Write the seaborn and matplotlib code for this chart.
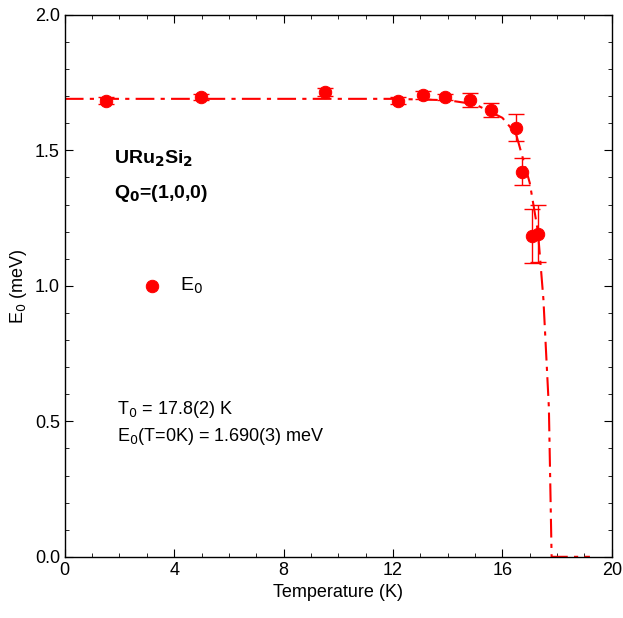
import numpy as np
import seaborn as sns
import matplotlib.pyplot as plt
from matplotlib.ticker import MultipleLocator

sns.set_style("ticks")
plt.rcParams['font.family'] = ['Liberation Sans', 'DejaVu Sans']
plt.rcParams['text.color'] = 'black'
plt.rcParams['axes.labelcolor'] = 'black'
plt.rcParams['xtick.color'] = 'black'
plt.rcParams['ytick.color'] = 'black'
plt.rcParams['axes.edgecolor'] = 'black'

# measured points
temp = [1.5, 4.97, 9.5, 12.2, 13.1, 13.9, 14.8, 15.6, 16.5, 16.7, 17.1, 17.3]
e0 = [1.683, 1.697, 1.716, 1.683, 1.705, 1.697, 1.686, 1.649, 1.583, 1.421, 1.184, 1.192]
e0_err = [0.012, 0.012, 0.015, 0.012, 0.015, 0.012, 0.025, 0.025, 0.05, 0.05, 0.1, 0.105]

# fit curve
fit_t = [0, 12, 14, 15, 16, 16.5, 17, 17.3, 17.5, 17.7, 17.8, 19.2]
fit_e = [1.69, 1.69, 1.685, 1.67, 1.62, 1.56, 1.38, 1.2, 0.95, 0.55, 0.0, 0.0]

red = '#ff0000'
fig = plt.figure(figsize=(6.23, 6.18), dpi=100)
ax = fig.add_axes([0.104, 0.099, 0.878, 0.877])

sns.lineplot(x=fit_t, y=fit_e, ax=ax, color=red, linestyle=(0, (9, 3, 2, 3)), lw=1.5)
ax.errorbar(temp, e0, yerr=e0_err, fmt='none', ecolor=red, capsize=6, lw=1)
sns.scatterplot(x=temp, y=e0, ax=ax, color=red, s=80, edgecolor=red, zorder=3)

# legend marker drawn like the original
sns.scatterplot(x=[3.2], y=[1.0], ax=ax, color=red, s=80, edgecolor=red)
ax.text(4.2, 1.0, r'E$_0$', fontsize=14, va='center')

ax.text(1.8, 1.47, r'URu$_\mathbf{2}$Si$_\mathbf{2}$', fontsize=14, fontweight='bold', va='center')
ax.text(1.8, 1.34, r'Q$_\mathbf{0}$=(1,0,0)', fontsize=14, fontweight='bold', va='center')
ax.text(1.9, 0.545, r'T$_0$ = 17.8(2) K', fontsize=13, va='center')
ax.text(1.9, 0.445, r'E$_0$(T=0K) = 1.690(3) meV', fontsize=13, va='center')

ax.set_xlim(0, 20)
ax.set_ylim(0, 2.0)
ax.xaxis.set_major_locator(MultipleLocator(4))
ax.xaxis.set_minor_locator(MultipleLocator(1))
ax.yaxis.set_major_locator(MultipleLocator(0.5))
ax.yaxis.set_minor_locator(MultipleLocator(0.1))
ax.set_yticklabels(['%.1f' % v for v in ax.get_yticks()])
ax.tick_params(which='both', direction='in', top=True, right=True, labelsize=13)
ax.tick_params(which='major', length=6)
ax.tick_params(which='minor', length=3)
ax.set_xlabel('Temperature (K)', fontsize=13)
ax.set_ylabel(r'E$_0$ (meV)', fontsize=13)
for s in ax.spines.values():
    s.set_linewidth(1)

fig.savefig('out.png', dpi=100)
